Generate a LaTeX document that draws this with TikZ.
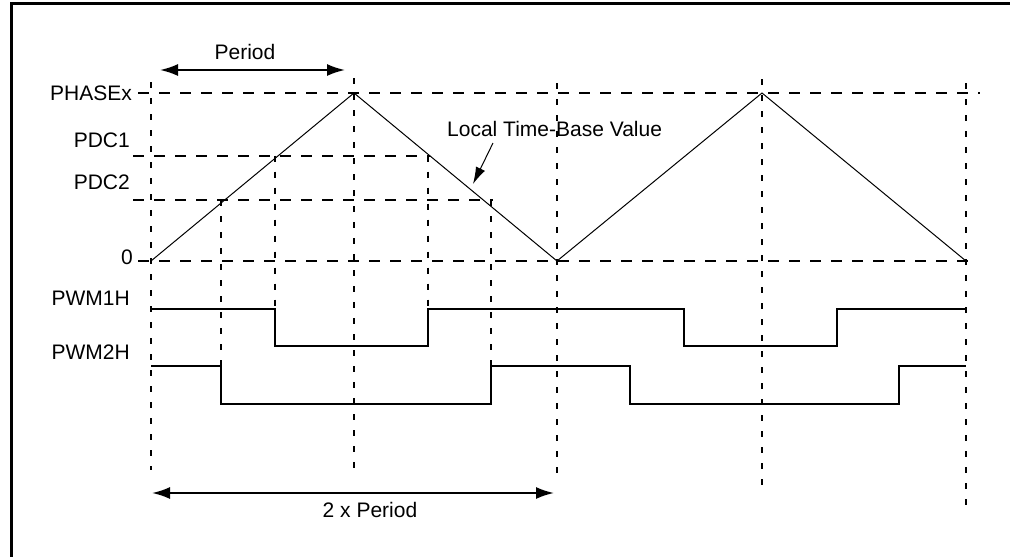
\documentclass[tikz,border=0pt]{standalone}
\usepackage{fontspec}
\setmainfont{Liberation Sans}
\usetikzlibrary{arrows.meta, positioning}

\begin{document}
\begin{tikzpicture}[x=1pt, y=-1pt, >={Latex[length=18pt,width=12pt]},
    font=\fontsize{21}{25}\selectfont,
    hgrid/.style={line width=2pt, dash pattern=on 11pt off 10pt},
    vgrid/.style={line width=2pt, dash pattern=on 6pt off 10pt},
    wave/.style={line width=2pt, line join=miter},
    lbl/.style={anchor=east, inner sep=0pt}]
\useasboundingbox (0,0) rectangle (1010,557);
\draw[line width=3pt] (11,600) -- (11,3) -- (1050,3);

% levels of the time base
\node[lbl] (phase) at (132,93) {PHASEx};
\node[lbl] (pdc1) at (130,140) {PDC1};
\node[lbl] (pdc2) at (130,182) {PDC2};
\node[lbl] (zero) at (133,257) {0};
\node[lbl] (pwm1) at (130,298) {PWM1H};
\node[lbl] (pwm2) at (130,352) {PWM2H};

\foreach \y/\a/\b in {93/138/980, 155.5/133/430, 200/133/493, 261/138/973}
{
    \draw[hgrid] (\a,\y) -- (\b,\y);
}
\foreach \x/\a/\b in {151/82/470, 221/200/366, 275/155.5/309, 354/78/472, 428/155.5/309,
                      491/200/366, 557/83/483, 762/79/491, 966/83/505}
{
    \draw[vgrid] (\x,\a) -- (\x,\b);
}

% triangle counter
\draw[line width=1pt] (151,261) -- (354,93) -- (557,261) -- (762,93) -- (966,261);

% outputs
\draw[wave] (151,309) -- (275,309) -- (275,346) -- (428,346) -- (428,309) -- (684,309)
    -- (684,346) -- (837,346) -- (837,309) -- (966,309);
\draw[wave] (151,366) -- (221,366) -- (221,404) -- (491,404) -- (491,366) -- (630,366)
    -- (630,404) -- (899,404) -- (899,366) -- (966,366);

% period arrows
\coordinate (P1) at (160,70);
\coordinate (P2) at (345,70);
\node (per) at (245,52) {Period};
\draw[line width=2pt, <->] (P1) -- (P2);

\coordinate (Q1) at (152,493);
\coordinate (Q2) at (554,493);
\node (twoper) at (370,510) {2 x Period};
\draw[line width=2pt, <->] (Q1) -- (Q2);

% time base label
\node[anchor=west, inner sep=0pt] (ltb) at (447,129) {Local Time-Base Value};
\coordinate (T1) at (493,143);
\coordinate (T2) at (473,184);
\draw[line width=1pt, -{Latex[length=17pt,width=10pt]}] (T1) -- (T2);
\end{tikzpicture}
\end{document}
